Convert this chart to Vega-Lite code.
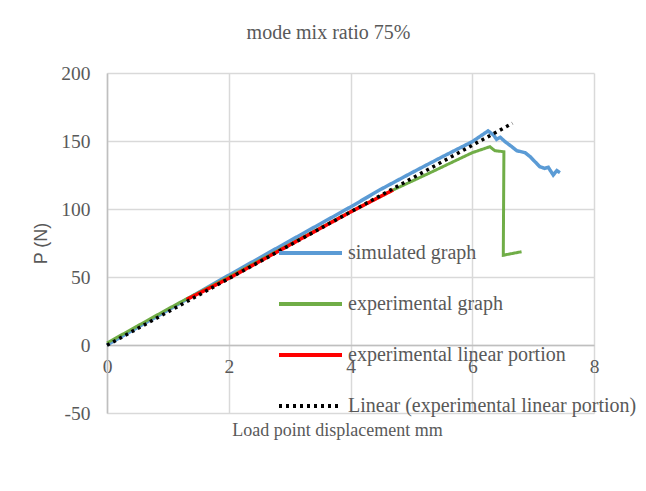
{
  "$schema": "https://vega.github.io/schema/vega-lite/v6.json",
  "width": 487,
  "height": 340,
  "autosize": {"type": "none"},
  "padding": {"left": 107, "top": 73, "right": 52, "bottom": 78},
  "background": "white",
  "title": {"text": "mode mix ratio 75%", "font": "Liberation Serif", "fontSize": 20, "fontWeight": "normal", "color": "#595959", "offset": 20, "dx": -22},
  "config": {"view": {"stroke": null}},
  "data": {"values": [
    {"s": "simulated graph", "i": 1, "x": 0, "y": 0},
    {"s": "simulated graph", "i": 2, "x": 1, "y": 25.7},
    {"s": "simulated graph", "i": 3, "x": 2, "y": 51.3},
    {"s": "simulated graph", "i": 4, "x": 3, "y": 76.5},
    {"s": "simulated graph", "i": 5, "x": 4, "y": 101.5},
    {"s": "simulated graph", "i": 6, "x": 4.5, "y": 114.5},
    {"s": "simulated graph", "i": 7, "x": 5, "y": 126.5},
    {"s": "simulated graph", "i": 8, "x": 5.5, "y": 138.2},
    {"s": "simulated graph", "i": 9, "x": 6.0, "y": 149.5},
    {"s": "simulated graph", "i": 10, "x": 6.26, "y": 157.4},
    {"s": "simulated graph", "i": 11, "x": 6.35, "y": 154.4},
    {"s": "simulated graph", "i": 12, "x": 6.40, "y": 151.2},
    {"s": "simulated graph", "i": 13, "x": 6.46, "y": 152.7},
    {"s": "simulated graph", "i": 14, "x": 6.54, "y": 149.5},
    {"s": "simulated graph", "i": 15, "x": 6.65, "y": 145.8},
    {"s": "simulated graph", "i": 16, "x": 6.73, "y": 142.9},
    {"s": "simulated graph", "i": 17, "x": 6.87, "y": 141.4},
    {"s": "simulated graph", "i": 18, "x": 6.95, "y": 138.5},
    {"s": "simulated graph", "i": 19, "x": 7.03, "y": 134.8},
    {"s": "simulated graph", "i": 20, "x": 7.11, "y": 131.1},
    {"s": "simulated graph", "i": 21, "x": 7.19, "y": 129.9},
    {"s": "simulated graph", "i": 22, "x": 7.25, "y": 130.6},
    {"s": "simulated graph", "i": 23, "x": 7.33, "y": 125},
    {"s": "simulated graph", "i": 24, "x": 7.39, "y": 128.2},
    {"s": "simulated graph", "i": 25, "x": 7.44, "y": 126.7},
    {"s": "experimental graph", "i": 1, "x": 0, "y": 1.5},
    {"s": "experimental graph", "i": 2, "x": 0.5, "y": 14},
    {"s": "experimental graph", "i": 3, "x": 1, "y": 26.5},
    {"s": "experimental graph", "i": 4, "x": 1.31, "y": 34},
    {"s": "experimental graph", "i": 5, "x": 2, "y": 50},
    {"s": "experimental graph", "i": 6, "x": 3, "y": 74},
    {"s": "experimental graph", "i": 7, "x": 4, "y": 98},
    {"s": "experimental graph", "i": 8, "x": 4.7, "y": 114},
    {"s": "experimental graph", "i": 9, "x": 5.3, "y": 126.5},
    {"s": "experimental graph", "i": 10, "x": 6.0, "y": 141.4},
    {"s": "experimental graph", "i": 11, "x": 6.29, "y": 145.8},
    {"s": "experimental graph", "i": 12, "x": 6.37, "y": 142.9},
    {"s": "experimental graph", "i": 13, "x": 6.52, "y": 142.1},
    {"s": "experimental graph", "i": 14, "x": 6.51, "y": 66},
    {"s": "experimental graph", "i": 15, "x": 6.81, "y": 68.6},
    {"s": "experimental linear portion", "i": 1, "x": 1.31, "y": 33.5},
    {"s": "experimental linear portion", "i": 2, "x": 2, "y": 49},
    {"s": "experimental linear portion", "i": 3, "x": 3, "y": 73.5},
    {"s": "experimental linear portion", "i": 4, "x": 4, "y": 97.8},
    {"s": "experimental linear portion", "i": 5, "x": 4.7, "y": 114},
    {"s": "Linear (experimental linear portion)", "i": 1, "x": 0, "y": -0.2},
    {"s": "Linear (experimental linear portion)", "i": 2, "x": 6.66, "y": 163}
  ]},
  "encoding": {
    "x": {"field": "x", "type": "quantitative",
      "scale": {"domain": [0, 8], "nice": false, "zero": false},
      "axis": {"values": [0, 2, 4, 6, 8], "offset": -68, "ticks": false, "labelPadding": 12, "labelFlush": false,
        "domainColor": "#bfbfbf", "domainWidth": 1.5, "grid": true, "gridColor": "#d9d9d9", "gridWidth": 1.5,
        "labelFont": "Liberation Serif", "labelFontSize": 19.5, "labelColor": "#595959",
        "title": "Load point displacement mm", "titleFont": "Liberation Serif", "titleFontSize": 18,
        "titleFontWeight": "normal", "titleColor": "#595959", "titlePadding": 46, "titleX": 230}},
    "y": {"field": "y", "type": "quantitative",
      "scale": {"domain": [-50, 200], "nice": false, "zero": false},
      "axis": {"values": [-50, 0, 50, 100, 150, 200], "labelExpr": "toString(datum.value)", "ticks": false, "labelPadding": 17,
        "domainColor": "#bfbfbf", "domainWidth": 1.5, "grid": true, "gridColor": "#d9d9d9", "gridWidth": 1.5,
        "labelFont": "Liberation Serif", "labelFontSize": 19.5, "labelColor": "#595959",
        "title": "P (N)", "titleFont": "Liberation Sans", "titleFontSize": 18,
        "titleFontWeight": "normal", "titleColor": "#595959", "titlePadding": 10}},
    "color": {"field": "s", "type": "nominal",
      "scale": {"domain": ["simulated graph", "experimental graph", "experimental linear portion", "Linear (experimental linear portion)"],
        "range": ["#5b9bd5", "#70ad47", "#ff0000", "#000000"]},
      "legend": {"title": null, "orient": "none", "legendX": 170, "legendY": 170,
        "symbolType": "stroke", "symbolSize": 3969, "symbolStrokeWidth": 4,
        "labelFont": "Liberation Serif", "labelFontSize": 20, "labelColor": "#595959",
        "rowPadding": 31, "clipHeight": 20, "labelOffset": 4, "labelLimit": 400}},
    "strokeDash": {"field": "s", "type": "nominal",
      "scale": {"domain": ["simulated graph", "experimental graph", "experimental linear portion", "Linear (experimental linear portion)"],
        "range": [[1, 0], [1, 0], [1, 0], [3, 4]]},
      "legend": {"title": null, "orient": "none", "legendX": 170, "legendY": 170,
        "symbolType": "stroke", "symbolSize": 3969, "symbolStrokeWidth": 4,
        "labelFont": "Liberation Serif", "labelFontSize": 20, "labelColor": "#595959",
        "rowPadding": 31, "clipHeight": 20, "labelOffset": 4, "labelLimit": 400}},
    "order": {"field": "i", "type": "quantitative"}
  },
  "layer": [
    {"transform": [{"filter": "datum.s === 'simulated graph'"}], "mark": {"type": "line", "strokeWidth": 3.5}},
    {"transform": [{"filter": "datum.s === 'experimental graph'"}], "mark": {"type": "line", "strokeWidth": 3}},
    {"transform": [{"filter": "datum.s === 'experimental linear portion'"}], "mark": {"type": "line", "strokeWidth": 3.5}},
    {"transform": [{"filter": "datum.s === 'Linear (experimental linear portion)'"}], "mark": {"type": "line", "strokeWidth": 3.5}}
  ]
}
